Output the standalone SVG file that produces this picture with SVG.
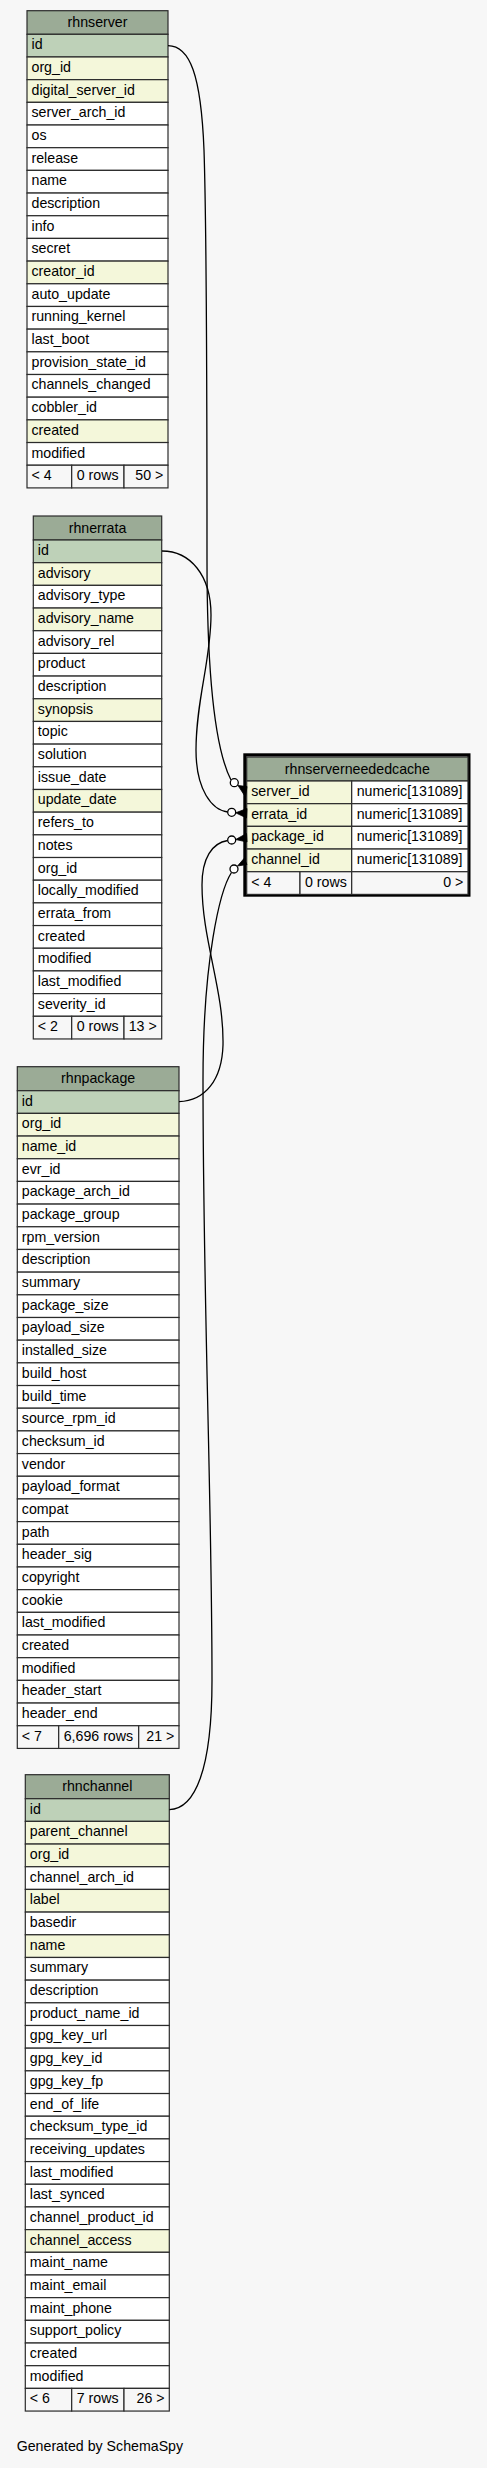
<svg xmlns="http://www.w3.org/2000/svg" width="487" height="2468" viewBox="0 0 487 2468">
<style>
.bg{fill:#f7f7f7}
rect.c{stroke:#2b2b2b;stroke-width:1.2}
.hd{fill:#9bab96}
.pk{fill:#bed1b8}
.ix{fill:#f4f7da}
.pl{fill:#ffffff}
.ft{fill:#f7f7f7}
text{font-family:"Liberation Sans",Arial,Helvetica,sans-serif;font-size:14.2px;fill:#000}
.mid{text-anchor:middle}
.end{text-anchor:end}
.edge{fill:none;stroke:#000;stroke-width:1.3}
.dot{fill:#fff;stroke:#000;stroke-width:1.3}
.crow{fill:#000;stroke:#000;stroke-width:0.8}
</style>
<rect class="bg" x="0" y="0" width="487" height="2468"/>

<g id="rhnserver" transform="translate(27,34.3)">
<rect class="c hd" x="0" y="-23.6" width="141" height="23.6"/><text class="mid" x="70.5" y="-7.5">rhnserver</text>
<rect class="c pk" x="0" y="0" width="141" height="22.68"/><text x="4.5" y="15">id</text>
<rect class="c ix" x="0" y="22.68" width="141" height="22.68"/><text x="4.5" y="37.68">org_id</text>
<rect class="c ix" x="0" y="45.36" width="141" height="22.68"/><text x="4.5" y="60.36">digital_server_id</text>
<rect class="c pl" x="0" y="68.04" width="141" height="22.68"/><text x="4.5" y="83.04">server_arch_id</text>
<rect class="c pl" x="0" y="90.72" width="141" height="22.68"/><text x="4.5" y="105.72">os</text>
<rect class="c pl" x="0" y="113.4" width="141" height="22.68"/><text x="4.5" y="128.4">release</text>
<rect class="c pl" x="0" y="136.08" width="141" height="22.68"/><text x="4.5" y="151.08">name</text>
<rect class="c pl" x="0" y="158.76" width="141" height="22.68"/><text x="4.5" y="173.76">description</text>
<rect class="c pl" x="0" y="181.44" width="141" height="22.68"/><text x="4.5" y="196.44">info</text>
<rect class="c pl" x="0" y="204.12" width="141" height="22.68"/><text x="4.5" y="219.12">secret</text>
<rect class="c ix" x="0" y="226.8" width="141" height="22.68"/><text x="4.5" y="241.8">creator_id</text>
<rect class="c pl" x="0" y="249.48" width="141" height="22.68"/><text x="4.5" y="264.48">auto_update</text>
<rect class="c pl" x="0" y="272.16" width="141" height="22.68"/><text x="4.5" y="287.16">running_kernel</text>
<rect class="c pl" x="0" y="294.84" width="141" height="22.68"/><text x="4.5" y="309.84">last_boot</text>
<rect class="c pl" x="0" y="317.52" width="141" height="22.68"/><text x="4.5" y="332.52">provision_state_id</text>
<rect class="c pl" x="0" y="340.2" width="141" height="22.68"/><text x="4.5" y="355.2">channels_changed</text>
<rect class="c pl" x="0" y="362.88" width="141" height="22.68"/><text x="4.5" y="377.88">cobbler_id</text>
<rect class="c ix" x="0" y="385.56" width="141" height="22.68"/><text x="4.5" y="400.56">created</text>
<rect class="c pl" x="0" y="408.24" width="141" height="22.68"/><text x="4.5" y="423.24">modified</text>
<rect class="c ft" x="0" y="430.92" width="44.7" height="22.68"/><rect class="c ft" x="44.7" y="430.92" width="52.3" height="22.68"/><rect class="c ft" x="97" y="430.92" width="44" height="22.68"/>
<text x="4.5" y="445.92">&lt; 4</text><text x="49.7" y="445.92">0 rows</text><text class="end" x="136.3" y="445.92">50 &gt;</text>
</g>

<g id="rhnerrata" transform="translate(33.3,540)">
<rect class="c hd" x="0" y="-24" width="128.4" height="24"/><text class="mid" x="64.2" y="-7.5">rhnerrata</text>
<rect class="c pk" x="0" y="0" width="128.4" height="22.68"/><text x="4.5" y="15">id</text>
<rect class="c ix" x="0" y="22.68" width="128.4" height="22.68"/><text x="4.5" y="37.68">advisory</text>
<rect class="c pl" x="0" y="45.36" width="128.4" height="22.68"/><text x="4.5" y="60.36">advisory_type</text>
<rect class="c ix" x="0" y="68.04" width="128.4" height="22.68"/><text x="4.5" y="83.04">advisory_name</text>
<rect class="c pl" x="0" y="90.72" width="128.4" height="22.68"/><text x="4.5" y="105.72">advisory_rel</text>
<rect class="c pl" x="0" y="113.4" width="128.4" height="22.68"/><text x="4.5" y="128.4">product</text>
<rect class="c pl" x="0" y="136.08" width="128.4" height="22.68"/><text x="4.5" y="151.08">description</text>
<rect class="c ix" x="0" y="158.76" width="128.4" height="22.68"/><text x="4.5" y="173.76">synopsis</text>
<rect class="c pl" x="0" y="181.44" width="128.4" height="22.68"/><text x="4.5" y="196.44">topic</text>
<rect class="c pl" x="0" y="204.12" width="128.4" height="22.68"/><text x="4.5" y="219.12">solution</text>
<rect class="c pl" x="0" y="226.8" width="128.4" height="22.68"/><text x="4.5" y="241.8">issue_date</text>
<rect class="c ix" x="0" y="249.48" width="128.4" height="22.68"/><text x="4.5" y="264.48">update_date</text>
<rect class="c pl" x="0" y="272.16" width="128.4" height="22.68"/><text x="4.5" y="287.16">refers_to</text>
<rect class="c pl" x="0" y="294.84" width="128.4" height="22.68"/><text x="4.5" y="309.84">notes</text>
<rect class="c pl" x="0" y="317.52" width="128.4" height="22.68"/><text x="4.5" y="332.52">org_id</text>
<rect class="c pl" x="0" y="340.2" width="128.4" height="22.68"/><text x="4.5" y="355.2">locally_modified</text>
<rect class="c pl" x="0" y="362.88" width="128.4" height="22.68"/><text x="4.5" y="377.88">errata_from</text>
<rect class="c pl" x="0" y="385.56" width="128.4" height="22.68"/><text x="4.5" y="400.56">created</text>
<rect class="c pl" x="0" y="408.24" width="128.4" height="22.68"/><text x="4.5" y="423.24">modified</text>
<rect class="c pl" x="0" y="430.92" width="128.4" height="22.68"/><text x="4.5" y="445.92">last_modified</text>
<rect class="c pl" x="0" y="453.6" width="128.4" height="22.68"/><text x="4.5" y="468.6">severity_id</text>
<rect class="c ft" x="0" y="476.28" width="38.4" height="22.68"/><rect class="c ft" x="38.4" y="476.28" width="52.3" height="22.68"/><rect class="c ft" x="90.7" y="476.28" width="37.7" height="22.68"/>
<text x="4.5" y="491.28">&lt; 2</text><text x="43.4" y="491.28">0 rows</text><text class="end" x="123.4" y="491.28">13 &gt;</text>
</g>

<g id="rhnpackage" transform="translate(17.3,1090.7)">
<rect class="c hd" x="0" y="-24" width="161.7" height="24"/><text class="mid" x="80.85" y="-7.5">rhnpackage</text>
<rect class="c pk" x="0" y="0" width="161.7" height="22.68"/><text x="4.5" y="15">id</text>
<rect class="c ix" x="0" y="22.68" width="161.7" height="22.68"/><text x="4.5" y="37.68">org_id</text>
<rect class="c ix" x="0" y="45.36" width="161.7" height="22.68"/><text x="4.5" y="60.36">name_id</text>
<rect class="c pl" x="0" y="68.04" width="161.7" height="22.68"/><text x="4.5" y="83.04">evr_id</text>
<rect class="c pl" x="0" y="90.72" width="161.7" height="22.68"/><text x="4.5" y="105.72">package_arch_id</text>
<rect class="c pl" x="0" y="113.4" width="161.7" height="22.68"/><text x="4.5" y="128.4">package_group</text>
<rect class="c pl" x="0" y="136.08" width="161.7" height="22.68"/><text x="4.5" y="151.08">rpm_version</text>
<rect class="c pl" x="0" y="158.76" width="161.7" height="22.68"/><text x="4.5" y="173.76">description</text>
<rect class="c pl" x="0" y="181.44" width="161.7" height="22.68"/><text x="4.5" y="196.44">summary</text>
<rect class="c pl" x="0" y="204.12" width="161.7" height="22.68"/><text x="4.5" y="219.12">package_size</text>
<rect class="c pl" x="0" y="226.8" width="161.7" height="22.68"/><text x="4.5" y="241.8">payload_size</text>
<rect class="c pl" x="0" y="249.48" width="161.7" height="22.68"/><text x="4.5" y="264.48">installed_size</text>
<rect class="c pl" x="0" y="272.16" width="161.7" height="22.68"/><text x="4.5" y="287.16">build_host</text>
<rect class="c pl" x="0" y="294.84" width="161.7" height="22.68"/><text x="4.5" y="309.84">build_time</text>
<rect class="c pl" x="0" y="317.52" width="161.7" height="22.68"/><text x="4.5" y="332.52">source_rpm_id</text>
<rect class="c pl" x="0" y="340.2" width="161.7" height="22.68"/><text x="4.5" y="355.2">checksum_id</text>
<rect class="c pl" x="0" y="362.88" width="161.7" height="22.68"/><text x="4.5" y="377.88">vendor</text>
<rect class="c pl" x="0" y="385.56" width="161.7" height="22.68"/><text x="4.5" y="400.56">payload_format</text>
<rect class="c pl" x="0" y="408.24" width="161.7" height="22.68"/><text x="4.5" y="423.24">compat</text>
<rect class="c pl" x="0" y="430.92" width="161.7" height="22.68"/><text x="4.5" y="445.92">path</text>
<rect class="c pl" x="0" y="453.6" width="161.7" height="22.68"/><text x="4.5" y="468.6">header_sig</text>
<rect class="c pl" x="0" y="476.28" width="161.7" height="22.68"/><text x="4.5" y="491.28">copyright</text>
<rect class="c pl" x="0" y="498.96" width="161.7" height="22.68"/><text x="4.5" y="513.96">cookie</text>
<rect class="c pl" x="0" y="521.64" width="161.7" height="22.68"/><text x="4.5" y="536.64">last_modified</text>
<rect class="c pl" x="0" y="544.32" width="161.7" height="22.68"/><text x="4.5" y="559.32">created</text>
<rect class="c pl" x="0" y="567" width="161.7" height="22.68"/><text x="4.5" y="582">modified</text>
<rect class="c pl" x="0" y="589.68" width="161.7" height="22.68"/><text x="4.5" y="604.68">header_start</text>
<rect class="c pl" x="0" y="612.36" width="161.7" height="22.68"/><text x="4.5" y="627.36">header_end</text>
<rect class="c ft" x="0" y="635.04" width="41.4" height="22.68"/><rect class="c ft" x="41.4" y="635.04" width="80" height="22.68"/><rect class="c ft" x="121.4" y="635.04" width="40.3" height="22.68"/>
<text x="4.5" y="650.04">&lt; 7</text><text x="46.4" y="650.04">6,696 rows</text><text class="end" x="157" y="650.04">21 &gt;</text>
</g>

<g id="rhnchannel" transform="translate(25.3,1798.7)">
<rect class="c hd" x="0" y="-24" width="144" height="24"/><text class="mid" x="72" y="-7.5">rhnchannel</text>
<rect class="c pk" x="0" y="0" width="144" height="22.68"/><text x="4.5" y="15">id</text>
<rect class="c ix" x="0" y="22.68" width="144" height="22.68"/><text x="4.5" y="37.68">parent_channel</text>
<rect class="c ix" x="0" y="45.36" width="144" height="22.68"/><text x="4.5" y="60.36">org_id</text>
<rect class="c pl" x="0" y="68.04" width="144" height="22.68"/><text x="4.5" y="83.04">channel_arch_id</text>
<rect class="c ix" x="0" y="90.72" width="144" height="22.68"/><text x="4.5" y="105.72">label</text>
<rect class="c pl" x="0" y="113.4" width="144" height="22.68"/><text x="4.5" y="128.4">basedir</text>
<rect class="c ix" x="0" y="136.08" width="144" height="22.68"/><text x="4.5" y="151.08">name</text>
<rect class="c pl" x="0" y="158.76" width="144" height="22.68"/><text x="4.5" y="173.76">summary</text>
<rect class="c pl" x="0" y="181.44" width="144" height="22.68"/><text x="4.5" y="196.44">description</text>
<rect class="c pl" x="0" y="204.12" width="144" height="22.68"/><text x="4.5" y="219.12">product_name_id</text>
<rect class="c pl" x="0" y="226.8" width="144" height="22.68"/><text x="4.5" y="241.8">gpg_key_url</text>
<rect class="c pl" x="0" y="249.48" width="144" height="22.68"/><text x="4.5" y="264.48">gpg_key_id</text>
<rect class="c pl" x="0" y="272.16" width="144" height="22.68"/><text x="4.5" y="287.16">gpg_key_fp</text>
<rect class="c pl" x="0" y="294.84" width="144" height="22.68"/><text x="4.5" y="309.84">end_of_life</text>
<rect class="c pl" x="0" y="317.52" width="144" height="22.68"/><text x="4.5" y="332.52">checksum_type_id</text>
<rect class="c pl" x="0" y="340.2" width="144" height="22.68"/><text x="4.5" y="355.2">receiving_updates</text>
<rect class="c pl" x="0" y="362.88" width="144" height="22.68"/><text x="4.5" y="377.88">last_modified</text>
<rect class="c pl" x="0" y="385.56" width="144" height="22.68"/><text x="4.5" y="400.56">last_synced</text>
<rect class="c pl" x="0" y="408.24" width="144" height="22.68"/><text x="4.5" y="423.24">channel_product_id</text>
<rect class="c ix" x="0" y="430.92" width="144" height="22.68"/><text x="4.5" y="445.92">channel_access</text>
<rect class="c pl" x="0" y="453.6" width="144" height="22.68"/><text x="4.5" y="468.6">maint_name</text>
<rect class="c pl" x="0" y="476.28" width="144" height="22.68"/><text x="4.5" y="491.28">maint_email</text>
<rect class="c pl" x="0" y="498.96" width="144" height="22.68"/><text x="4.5" y="513.96">maint_phone</text>
<rect class="c pl" x="0" y="521.64" width="144" height="22.68"/><text x="4.5" y="536.64">support_policy</text>
<rect class="c pl" x="0" y="544.32" width="144" height="22.68"/><text x="4.5" y="559.32">created</text>
<rect class="c pl" x="0" y="567" width="144" height="22.68"/><text x="4.5" y="582">modified</text>
<rect class="c ft" x="0" y="589.68" width="46.4" height="22.68"/><rect class="c ft" x="46.4" y="589.68" width="52.3" height="22.68"/><rect class="c ft" x="98.7" y="589.68" width="45.3" height="22.68"/>
<text x="4.5" y="604.68">&lt; 6</text><text x="51.4" y="604.68">7 rows</text><text class="end" x="139.3" y="604.68">26 &gt;</text>
</g>

<g id="rhnserverneededcache">
<rect x="244.9" y="754.9" width="224" height="140.2" fill="none" stroke="#000" stroke-width="3.2"/>
<g transform="translate(246.7,781)">
<rect class="c hd" x="0" y="-24" width="221.3" height="24"/><text class="mid" x="110.65" y="-7.5">rhnserverneededcache</text>
<rect class="c ix" x="0" y="0" width="105" height="22.68"/><rect class="c pl" x="105" y="0" width="116.3" height="22.68"/>
<text x="4.5" y="15">server_id</text><text x="110" y="15">numeric[131089]</text>
<rect class="c ix" x="0" y="22.68" width="105" height="22.68"/><rect class="c pl" x="105" y="22.68" width="116.3" height="22.68"/>
<text x="4.5" y="37.68">errata_id</text><text x="110" y="37.68">numeric[131089]</text>
<rect class="c ix" x="0" y="45.36" width="105" height="22.68"/><rect class="c pl" x="105" y="45.36" width="116.3" height="22.68"/>
<text x="4.5" y="60.36">package_id</text><text x="110" y="60.36">numeric[131089]</text>
<rect class="c ix" x="0" y="68.04" width="105" height="22.68"/><rect class="c pl" x="105" y="68.04" width="116.3" height="22.68"/>
<text x="4.5" y="83.04">channel_id</text><text x="110" y="83.04">numeric[131089]</text>
<rect class="c ft" x="0" y="90.72" width="53.3" height="22.68"/><rect class="c ft" x="53.3" y="90.72" width="51.7" height="22.68"/><rect class="c ft" x="105" y="90.72" width="116.3" height="22.68"/>
<text x="4.5" y="105.72">&lt; 4</text><text x="58.3" y="105.72">0 rows</text><text class="end" x="216.6" y="105.72">0 &gt;</text>
</g>
</g>

<g id="connectors">
<path class="edge" d="M168,45.7 C190,46 201,75 204,150 C207,240 207,450 207,560 C207,660 213,745 231,780"/>
<path class="edge" d="M162,551 C190,551 211,575 211,615 C211,660 196,700 196,750 C196,790 212,810 227.7,812"/>
<path class="edge" d="M227.7,840.5 C212,843 202,858 202,885 C202,940 224,990 223,1045 C222,1080 205,1101 179,1101.7"/>
<path class="edge" d="M231.5,872.5 C220,890 203,960 203,1080 C203,1300 212,1500 212,1680 C212,1770 195,1809 169.3,1809.7"/>
<polygon class="crow" points="238,785.5 247,786.5 245.5,797"/>
<polygon class="crow" points="235.7,812.8 247,808.5 246.5,818"/>
<polygon class="crow" points="235.7,839.5 246.5,833.5 247,842"/>
<polygon class="crow" points="237.5,866 244,858.5 247,864.5"/>
<circle class="dot" cx="234.3" cy="782.7" r="4"/>
<circle class="dot" cx="231.7" cy="812.3" r="4"/>
<circle class="dot" cx="231.7" cy="840" r="4"/>
<circle class="dot" cx="234" cy="869" r="4"/>
</g>

<text x="16.7" y="2450.5">Generated by SchemaSpy</text>
</svg>
